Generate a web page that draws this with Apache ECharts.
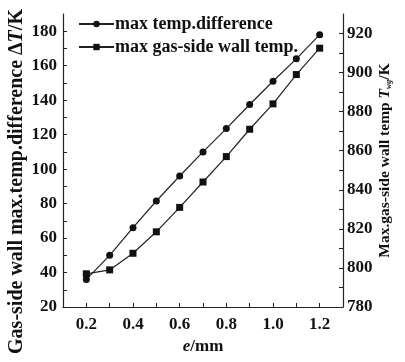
<!DOCTYPE html>
<html>
<head>
<meta charset="utf-8">
<script src="https://cdn.jsdelivr.net/npm/echarts@6/dist/echarts.min.js"></script>
<style>
  html, body { margin: 0; padding: 0; background: #fff; }
  #chart { width: 405px; height: 362px; }
</style>
</head>
<body>
<div id="chart"></div>
<script>
// Wall thickness e (mm)
const thickness = [0.2, 0.3, 0.4, 0.5, 0.6, 0.7, 0.8, 0.9, 1.0, 1.1, 1.2];
// Gas-side wall maximum temperature difference ΔT (K), left axis
const maxTempDiff = [36, 50, 66, 81.5, 96, 110, 123.5, 137.5, 151, 164, 178];
// Maximum gas-side wall temperature (K), right axis
const maxWallTemp = [797, 799, 807.5, 818.5, 831, 844, 857, 871, 884, 899, 912.5];

const seriesNames = ['max temp.difference', 'max gas-side wall temp.'];

const FONT = '"Liberation Serif", "DejaVu Serif", serif';
const INK = '#111';

const chart = echarts.init(document.getElementById('chart'), null, { renderer: 'canvas' });

const axisText = { color: INK, fontFamily: FONT, fontWeight: 'bold', fontSize: 17 };
const italic = (size) => ({ fontStyle: 'italic', fontFamily: FONT, fontWeight: 'bold', fontSize: size, color: INK });

chart.setOption({
  animation: false,
  backgroundColor: '#fff',
  grid: { left: 63, right: 62, top: 14, bottom: 55, containLabel: false, outerBoundsMode: 'none' },
  legend: {
    orient: 'vertical',
    left: 73,
    top: 10,
    itemWidth: 35,
    itemHeight: 8,
    itemGap: 5,
    textStyle: { color: INK, fontFamily: FONT, fontWeight: 'bold', fontSize: 18, padding: [0, 0, 0, -4] },
    data: seriesNames
  },
  xAxis: {
    type: 'value',
    min: 0.1,
    max: 1.3,
    interval: 0.1,
    name: '{i|e}/mm',
    nameLocation: 'middle',
    nameGap: 29,
    nameTextStyle: {
      color: INK, fontFamily: FONT, fontWeight: 'bold', fontSize: 17,
      rich: { i: italic(17) }
    },
    axisLine: { lineStyle: { color: '#222', width: 1.2 } },
    axisTick: { inside: true, length: 4, lineStyle: { color: '#222' } },
    splitLine: { show: false },
    axisLabel: Object.assign({}, axisText, {
      margin: 9,
      showMinLabel: false,
      showMaxLabel: false,
      formatter: function (v) {
        const k = Math.round(v * 10);
        return k % 2 === 0 ? (k / 10).toFixed(1) : '';
      }
    })
  },
  yAxis: [
    {
      type: 'value',
      position: 'left',
      min: 20,
      max: 190,
      interval: 10,
      name: 'Gas-side wall max.temp.difference Δ{i|T}/K{gap|}',
      nameLocation: 'middle',
      nameRotate: 90,
      nameGap: 36,
      nameMoveOverlap: false,
      nameTextStyle: {
        color: INK, fontFamily: FONT, fontWeight: 'bold', fontSize: 20,
        rich: { i: italic(20), gap: { width: 42 } }
      },
      axisLine: { show: true, lineStyle: { color: '#222', width: 1.2 } },
      axisTick: { show: true, inside: true, length: 4, lineStyle: { color: '#222' } },
      splitLine: { show: false },
      axisLabel: Object.assign({}, axisText, {
        margin: 6,
        showMaxLabel: false,
        formatter: function (v) { return v % 20 === 0 ? String(v) : ''; }
      })
    },
    {
      type: 'value',
      position: 'right',
      min: 780,
      max: 930,
      interval: 10,
      name: 'Max.gas-side wall temp {i|T}{s|wg}/K',
      nameLocation: 'middle',
      nameRotate: 90,
      nameGap: 34,
      nameMoveOverlap: false,
      nameTextStyle: {
        color: INK, fontFamily: FONT, fontWeight: 'bold', fontSize: 15.5,
        rich: {
          i: italic(15.5),
          s: Object.assign(italic(8), { padding: [8, 0, 0, 0] })
        }
      },
      axisLine: { show: true, lineStyle: { color: '#222', width: 1.2 } },
      axisTick: { show: true, inside: true, length: 4, lineStyle: { color: '#222' } },
      splitLine: { show: false },
      axisLabel: Object.assign({}, axisText, {
        margin: 4,
        showMaxLabel: false,
        formatter: function (v) { return v % 20 === 0 ? String(v) : ''; }
      })
    }
  ],
  series: [
    {
      name: seriesNames[0],
      type: 'line',
      yAxisIndex: 0,
      data: thickness.map((x, i) => [x, maxTempDiff[i]]),
      symbol: 'circle',
      symbolSize: 7,
      itemStyle: { color: INK },
      lineStyle: { color: '#222', width: 1.2 }
    },
    {
      name: seriesNames[1],
      type: 'line',
      yAxisIndex: 1,
      data: thickness.map((x, i) => [x, maxWallTemp[i]]),
      symbol: 'rect',
      symbolSize: 7,
      itemStyle: { color: INK },
      lineStyle: { color: '#222', width: 1.2 }
    }
  ]
});
</script>
</body>
</html>
